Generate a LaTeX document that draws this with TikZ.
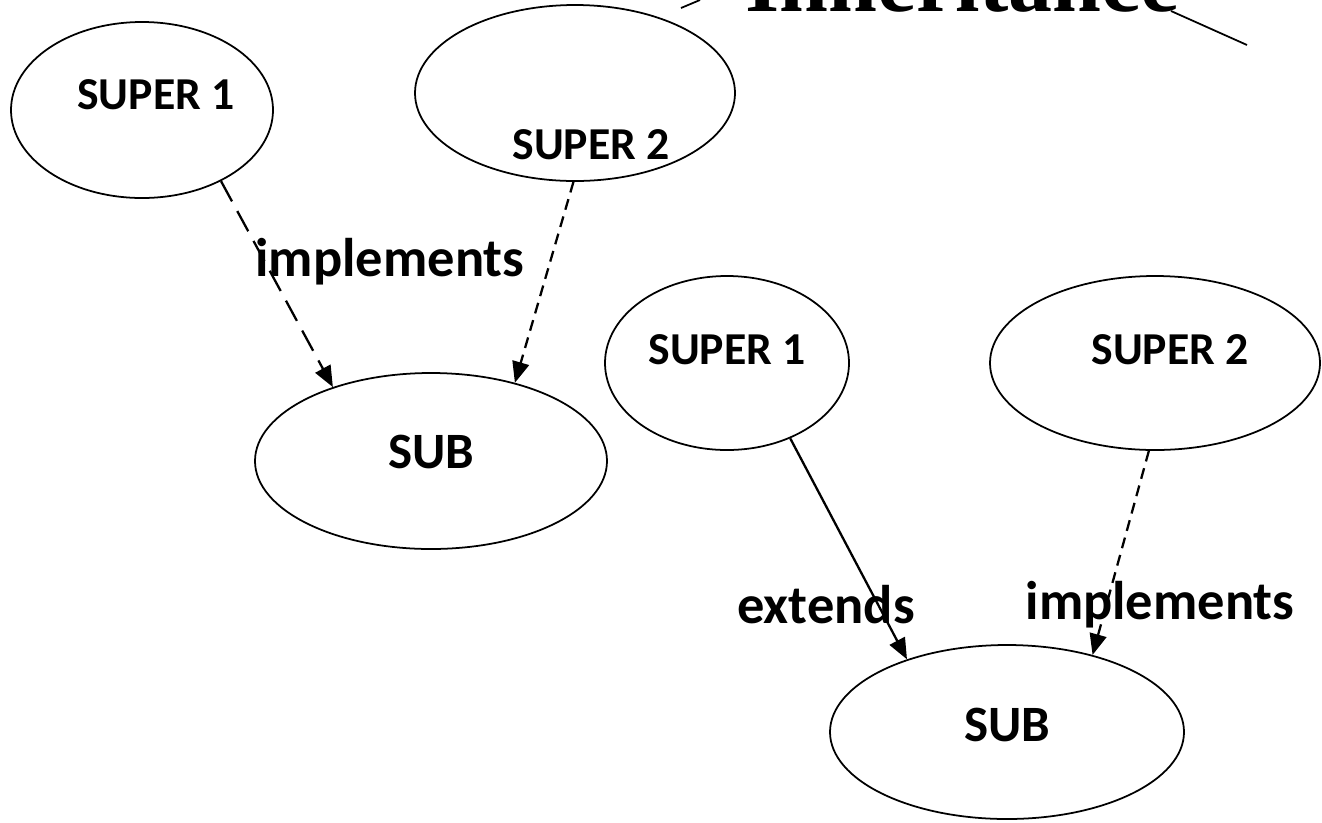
\documentclass[tikz,border=0pt]{standalone}
\usepackage{fontspec}
\setmainfont{Carlito}
\newfontfamily\titlefont{Liberation Serif}
\usepackage{tikz}
\usetikzlibrary{shapes.geometric,arrows.meta}

\begin{document}
\begin{tikzpicture}[
        cls/.style={ellipse, draw, line width=1pt, inner sep=0pt},
        name text/.style={font=\fontsize{26}{31}\selectfont\bfseries},
        sub text/.style={font=\fontsize{29}{34}\selectfont\bfseries},
        rel text/.style={font=\fontsize{31}{36}\selectfont\bfseries},
        rel/.style={line width=1.3pt, -{Triangle[length=4.2mm,width=3.4mm]}},
        long dash/.style={rel, dash pattern=on 0.46cm off 0.22cm},
        short dash/.style={rel, dash pattern=on 0.22cm off 0.14cm},
        every node/.style={color=black}
      ]
      \clip (0,0) rectangle (26.44,-16.44);

      % title, cut by the top edge
      \node[anchor=base west, inner sep=0pt, font=\titlefont\fontsize{50}{56}\selectfont\bfseries]
        (title) at (14.9,-0.22) {Inheritance};
      \draw[line width=1pt] (13.62,-0.16) -- (14.0,0);
      \draw[line width=1pt] (23.42,-0.22) -- (24.94,-0.9);

      % first group
      \node[cls, minimum width=5.24cm, minimum height=3.52cm,
        label={[name text, xshift=0.28cm, yshift=0.30cm]center:SUPER 1}] (supA) at (2.84,-2.20) {};
      \node[cls, minimum width=6.4cm, minimum height=3.52cm,
        label={[name text, xshift=0.32cm, yshift=-1.04cm]center:SUPER 2}] (supB) at (11.5,-1.86) {};
      \node[cls, minimum width=7.04cm, minimum height=3.52cm,
        label={[sub text, yshift=0.18cm]center:SUB}] (subA) at (8.62,-9.22) {};

      \draw[long dash] (supA.-42) -- (subA.143);
      \draw[short dash] (supB.-91) -- (subA.43);
      \node[rel text] (implA) at (7.8,-5.24) {implements};

      % second group
      \node[cls, minimum width=4.88cm, minimum height=3.48cm,
        label={[name text, yshift=0.26cm]center:SUPER 1}] (supC) at (14.54,-7.26) {};
      \node[cls, minimum width=6.6cm, minimum height=3.48cm,
        label={[name text, xshift=0.3cm, yshift=0.26cm]center:SUPER 2}] (supD) at (23.1,-7.26) {};
      \node[cls, minimum width=7.08cm, minimum height=3.48cm,
        label={[sub text, yshift=0.14cm]center:SUB}] (subB) at (20.14,-14.64) {};

      \draw[rel] (supC.-50) -- (subB.144);
      \draw[short dash] (supD.-94) -- (subB.42);
      \node[rel text] (ext) at (16.52,-12.1) {extends};
      \node[rel text] (implB) at (23.2,-12.1) {implements};
\end{tikzpicture}
\end{document}
